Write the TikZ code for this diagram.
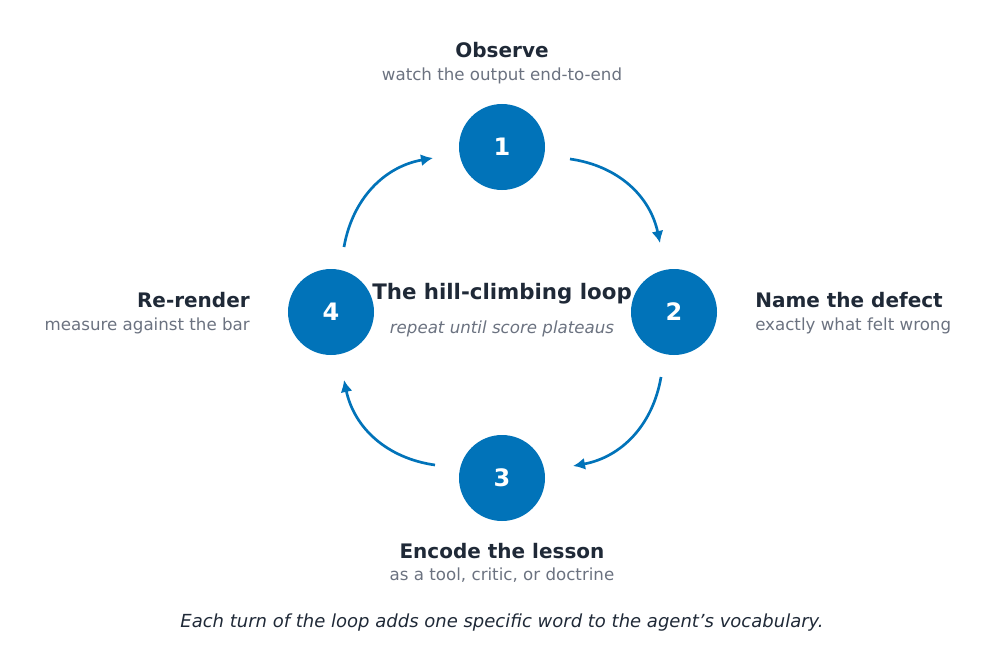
\documentclass[tikz,border=0pt]{standalone}
\usepackage{fontspec}
\setmainfont{DejaVu Sans}
\usetikzlibrary{arrows.meta}
\definecolor{blu}{HTML}{0173B9}
\definecolor{dk}{HTML}{1F2937}
\definecolor{gr}{HTML}{6B7280}
\begin{document}
\begin{tikzpicture}[x=0.75pt,y=-0.75pt,
 stp/.style={circle,fill=blu,minimum size=64.5pt,inner sep=0pt,text=white,font=\fontsize{18}{20}\selectfont\bfseries},
 ttl/.style={text=dk,font=\fontsize{15}{17}\selectfont\bfseries,inner sep=0pt},
 sub/.style={text=gr,font=\fontsize{12.5}{14}\selectfont,inner sep=0pt},
 arr/.style={->,>={Latex[length=9pt,width=9pt]},draw=blu,line width=2pt}]
\useasboundingbox (0,0) rectangle (998,656);
\node[stp] (n1) at (502,147) {1};
\node[stp] (n2) at (674,312) {2};
\node[stp] (n3) at (502,478) {3};
\node[stp] (n4) at (331,312) {4};
\node[ttl] (t1) at (502,50) {Observe};
\node[sub] (s1) at (502,76) {watch the output end-to-end};
\node[ttl,anchor=west] (t2) at (755,300) {Name the defect};
\node[sub,anchor=west] (s2) at (755,326) {exactly what felt wrong};
\node[ttl] (t3) at (502,551) {Encode the lesson};
\node[sub] (s3) at (502,575) {as a tool, critic, or doctrine};
\node[ttl,anchor=east] (t4) at (250,300) {Re-render};
\node[sub,anchor=east] (s4) at (250,326) {measure against the bar};
\node[text=dk,font=\fontsize{16}{18}\selectfont\bfseries,inner sep=0pt] (c) at (502,294) {The hill-climbing loop};
\node[text=gr,font=\fontsize{12.5}{14}\selectfont\itshape,inner sep=0pt] (cs) at (502,329) {repeat until score plateaus};
\node[text=dk,font=\fontsize{13.5}{15}\selectfont\itshape,inner sep=0pt] (cap) at (502,623) {Each turn of the loop adds one specific word to the agent’s vocabulary.};
\coordinate (a1) at (570,159); \coordinate (b1) at (660,243);
\coordinate (a2) at (661,377); \coordinate (b2) at (573,466);
\coordinate (a3) at (435,465); \coordinate (b3) at (344,380);
\coordinate (a4) at (344,247); \coordinate (b4) at (433,158);
\draw[arr] (a1) to[bend left=35] (b1);
\draw[arr] (a2) to[bend left=35] (b2);
\draw[arr] (a3) to[bend left=35] (b3);
\draw[arr] (a4) to[bend left=35] (b4);
\end{tikzpicture}
\end{document}
